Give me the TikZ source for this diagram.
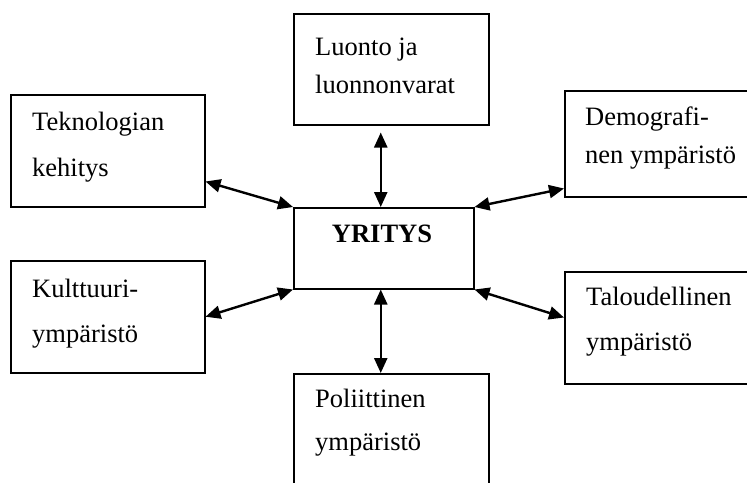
\documentclass[tikz,border=0pt]{standalone}
\usepackage{fontspec}
\setmainfont{Liberation Serif}
\usetikzlibrary{arrows.meta,calc}
\begin{document}
\begin{tikzpicture}[x=1pt,y=-1pt,
  box/.style={draw=black, line width=1.5pt, inner sep=0pt, anchor=north west},
  lbl/.style={font=\fontsize{26.5}{30}\selectfont, inner sep=0pt, anchor=base west},
  link/.style={{Triangle[length=15pt,width=13pt]}-{Triangle[length=15pt,width=13pt]}, line width=2.4pt}]
\useasboundingbox (0,0) rectangle (747,482);
\clip (0,0) rectangle (747,482);
% boxes
\node[box, minimum width=195pt, minimum height=111pt] (luo) at (293,13) {};
\node[box, minimum width=194pt, minimum height=112pt] (tek) at (10,94) {};
\node[box, minimum width=200pt, minimum height=106pt] (demo) at (564,90) {};
\node[box, minimum width=180pt, minimum height=81pt] (yri) at (293,207) {};
\node[box, minimum width=194pt, minimum height=112pt] (kult) at (10,260) {};
\node[box, minimum width=200pt, minimum height=112pt] (talo) at (564,271) {};
\node[box, minimum width=195pt, minimum height=130pt] (pol) at (293,373) {};
% labels
\node[lbl] (luo1) at (315,55) {Luonto ja};
\node[lbl] (luo2) at (315,93) {luonnonvarat};
\node[lbl] (tek1) at (32,130) {Teknologian};
\node[lbl] (tek2) at (32,176) {kehitys};
\node[lbl] (demo1) at (585,125) {Demografi-};
\node[lbl] (demo2) at (585,163) {nen ympäristö};
\node[font=\fontsize{26.5}{30}\selectfont\bfseries, inner sep=0pt, anchor=base] (yri1) at (382,242) {YRITYS};
\node[lbl] (kult1) at (32,297) {Kulttuuri-};
\node[lbl] (kult2) at (32,342) {ympäristö};
\node[lbl] (talo1) at (586,305) {Taloudellinen};
\node[lbl] (talo2) at (586,350) {ympäristö};
\node[lbl] (pol1) at (315,407) {Poliittinen};
\node[lbl] (pol2) at (315,450) {ympäristö};
% connectors
\draw[link] ($(yri.north |- luo.south)+(-3,7)$) -- ($(yri.north)+(-3,0)$);
\draw[link] ($(yri.south)+(-3,0)$) -- ($(yri.south |- pol.north)+(-3,0)$);
\draw[link] ($(tek.south east)+(0,-26)$) -- (yri.north west);
\draw[link] (yri.north east) -- ($(demo.south west)+(0,-9)$);
\draw[link] (kult.east) -- (yri.south west);
\draw[link] (yri.south east) -- ($(talo.south west)+(0,-67)$);
\end{tikzpicture}
\end{document}
